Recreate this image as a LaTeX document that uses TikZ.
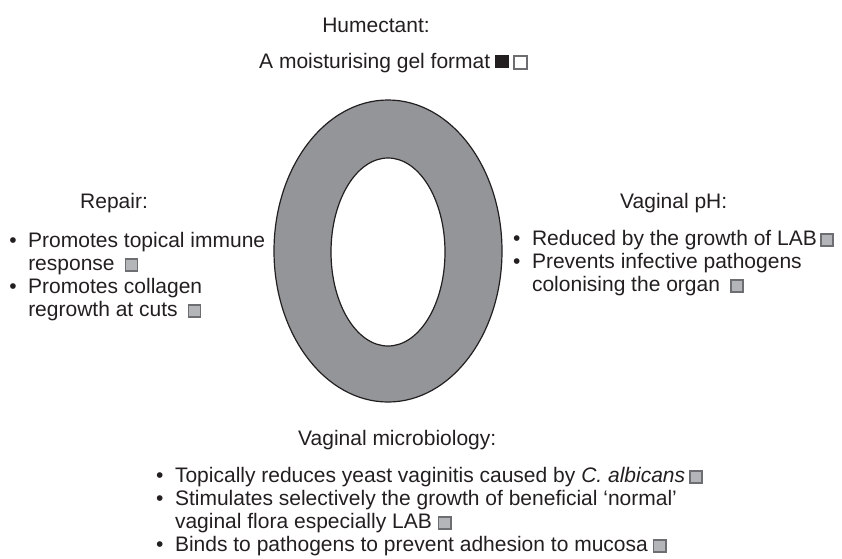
\documentclass[tikz,border=0pt]{standalone}
\usepackage{fontspec}
\setmainfont{Liberation Sans}
\usepackage{xcolor}
\definecolor{ringGrey}{HTML}{939598}
\definecolor{inkBlack}{HTML}{231F20}
\definecolor{keyGrey}{HTML}{B4B5B8}
\definecolor{keyEdge}{HTML}{6D6E71}

\newcommand{\keysq}[1][8pt]{\hspace{#1}{\setlength{\fboxsep}{0pt}\setlength{\fboxrule}{1.6pt}%
  \fcolorbox{keyEdge}{keyGrey}{\rule{0pt}{10.5pt}\rule{10.5pt}{0pt}}}}
\newcommand{\gelkey}{\hspace{5pt}{\color{inkBlack}\rule{14pt}{13pt}}\hspace{4pt}%
  {\setlength{\fboxsep}{0pt}\setlength{\fboxrule}{1.8pt}\fcolorbox{keyEdge}{white}{\rule{0pt}{11pt}\rule{11pt}{0pt}}}}
\newcommand{\bullist}[1]{\begin{tabular}[t]{@{}l@{\hspace{11.5pt}}l@{}}#1\end{tabular}}

\begin{document}
\begin{tikzpicture}[x=1pt,y=-1pt,
    heading/.style={anchor=base west,inner sep=0pt,text=inkBlack},
    itemblock/.style={anchor=base west,inner sep=0pt,text=inkBlack},
    font=\fontsize{21}{23}\selectfont]
    \useasboundingbox (0,0) rectangle (842,558);
    \fill[ringGrey,even odd rule] (388,251) ellipse [x radius=114,y radius=151]
      (388,252) ellipse [x radius=57,y radius=94];
    \draw[inkBlack,line width=1.2pt] (388,251) ellipse [x radius=114,y radius=151];
    \draw[inkBlack,line width=1.2pt] (388,252) ellipse [x radius=57,y radius=94];

    \node[heading,anchor=base] (humectant) at (376,32) {Humectant:};
    \node[heading] (gel) at (259,68) {A moisturising gel format\gelkey};

    \node[heading] (repair) at (80,208) {Repair:};
    \node[itemblock] (repairlist) at (9.2,247) {\bullist{%
      \textbullet & Promotes topical immune\\
      & response\keysq[10pt]\\
      \textbullet & Promotes collagen\\
      & regrowth at cuts\keysq[10pt]}};

    \node[heading] (ph) at (620,208) {Vaginal pH:};
    \node[itemblock] (phlist) at (513,245) {\bullist{%
      \textbullet & Reduced by the growth of LAB\keysq[3pt]\\
      \textbullet & Prevents infective pathogens\\
      & colonising the organ\keysq[10pt]}};

    \node[heading] (micro) at (298,445) {Vaginal microbiology:};
    \node[itemblock] (microlist) at (156,482) {\bullist{%
      \textbullet & Topically reduces yeast vaginitis caused by \textit{C. albicans}\keysq[4pt]\\
      \textbullet & Stimulates selectively the growth of beneficial ‘normal’\\
      & vaginal flora especially LAB\keysq[6pt]\\
      \textbullet & Binds to pathogens to prevent adhesion to mucosa\keysq[5pt]}};
\end{tikzpicture}
\end{document}
